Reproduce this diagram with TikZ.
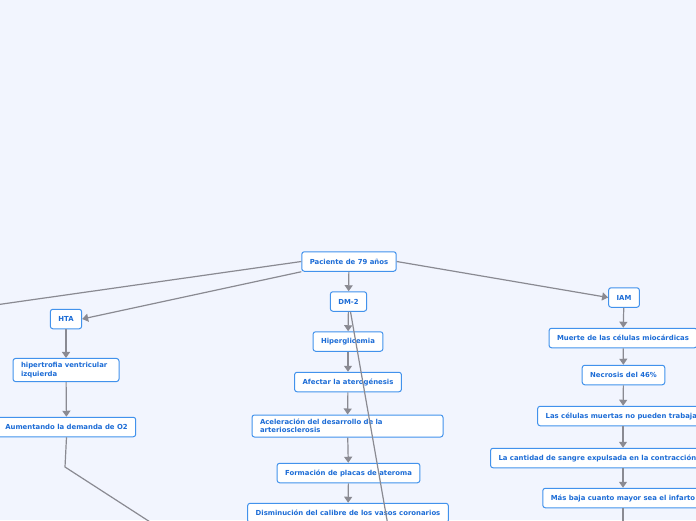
\documentclass[tikz,border=0pt]{standalone}
\usepackage{fontspec}
\usepackage{xcolor}
\usepackage{tikz}
\usetikzlibrary{positioning,arrows.meta,calc}
\newfontfamily\mapfont{DejaVu Sans}
\definecolor{bgmap}{RGB}{242,245,254}
\definecolor{edgeblue}{RGB}{66,146,236}
\definecolor{txtblue}{RGB}{28,108,214}
\definecolor{lngray}{RGB}{138,138,146}
\tikzset{
  topic/.style ={draw=edgeblue, fill=white, rounded corners=2.5pt, line width=1pt,
                 text=txtblue, font=\mapfont\bfseries\fontsize{6.9}{8.4}\selectfont,
                 inner xsep=8pt, inner ysep=0pt, minimum height=19.5pt},
  wtopic/.style={topic, align=left, inner ysep=4pt},
  ar/.style    ={-{Triangle[length=6pt,width=8pt]}, draw=lngray, line width=1.2pt},
  ln/.style    ={draw=lngray, line width=1.2pt},
}

\begin{document}
\begin{tikzpicture}[x=1pt,y=-1pt]
\useasboundingbox (0,0) rectangle (696,520);
\clip (0,0) rectangle (696,520);
\fill[bgmap] (0,0) rectangle (696,520);

% root
\node[topic] (pac) at (349,261.5) {Paciente de 79 años};

% HTA branch
\node[topic] (hta) at (66,319) {HTA};
\node[wtopic,text width=90pt] (hvi) at (66,370) {hipertrofia ventricular\\izquierda};
\node[topic] (aum) at (66.5,427) {Aumentando la demanda de O2};

% DM-2 branch
\node[topic] (dm) at (348.5,301.5) {DM-2};
\node[topic] (hip) at (348,341.5) {Hiperglicemia};
\node[topic] (afe) at (348,382) {Afectar la aterogénesis};
\node[wtopic,text width=175pt] (ace) at (347.5,426) {Aceleración del desarrollo de la\\arteriosclerosis};
\node[topic] (for) at (348.5,473) {Formación de placas de ateroma};
\node[topic] (dis) at (348,513) {Disminución del calibre de los vasos coronarios};

% IAM branch
\node[topic] (iam) at (624,297.5) {IAM};
\node[topic] (mue) at (623,338) {Muerte de las células miocárdicas};
\node[topic] (nec) at (623.5,375) {Necrosis del 46\%};
\node[topic] (las) at (623,416) {Las células muertas no pueden trabajar};
\node[topic,anchor=west] (can) at (490,458) {La cantidad de sangre expulsada en la contracción};
\node[topic] (mas) at (623,498) {Más baja cuanto mayor sea el infarto};

% free ends (off the page)
\coordinate (offL) at (-40,310);
\coordinate (offD) at (390.5,540);
\coordinate (bend) at (65,467);
\coordinate (offB) at (178,540);
\coordinate (offR) at (623,540);

% connectors
\draw[ar] (pac.west) -- (offL);
\draw[ar] (pac.south west) -- (hta.east);
\draw[ar] (pac) -- (dm);
\draw[ar] (pac.east) -- (iam.west);

\draw[ar] (hta) -- (hvi);
\draw[ar] (hvi) -- (aum);
\draw[ln] (aum.south) -- (bend) -- (offB);

\draw[ar] (dm) -- (hip);
\draw[ln] ([xshift=2pt]dm.south) -- (offD);
\draw[ar] (hip) -- (afe);
\draw[ar] (afe) -- (ace);
\draw[ar] (ace) -- (for);
\draw[ar] (for) -- (dis);

\draw[ar] (iam) -- (mue);
\draw[ar] (mue) -- (nec);
\draw[ar] (nec) -- (las);
\draw[ar] (las) -- (las |- can.north);
\draw[ar] (can.south -| mas) -- (mas);
\draw[ln] (mas.south) -- (offR);
\end{tikzpicture}
\end{document}
